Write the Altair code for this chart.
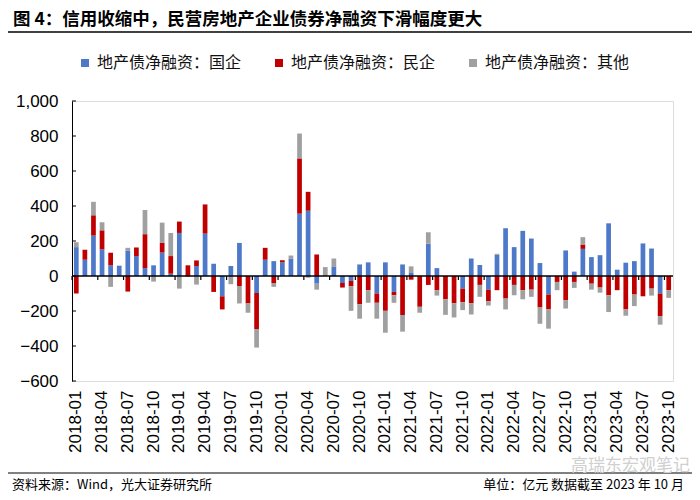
import altair as alt
import pandas as pd

# ---------------- data ----------------
months = [f"{y}-{m:02d}" for y in range(2018, 2024) for m in range(1, 13)][:70]

guoqi = [165, 93, 231, 152, 61, 59, 146, 114, 45, 61, 134, 13,
         246, 0, 57, 242, 70, -116, 57, 189, 0, -97, 93, 85,
         78, 100, 356, 373, -44, 0, 55, -40, -28, 66, 78, -100,
         78, -91, 66, 17, 0, 184, 45, 0, 0, -72, 100, 63,
         -78, 121, 273, 165, 258, 214, 74, -106, 0, 146, 25, 155,
         108, 119, 301, 36, 76, 85, 186, 157, -100, 0]
minqi = [-100, 57, 116, 109, 72, 0, -89, 49, 194, 0, 55, 101,
         65, 61, 32, 167, -91, -75, 0, -57, -157, -206, 68, -40,
         12, 0, 316, 108, 123, 0, 0, -26, -31, -161, -81, -53,
         -199, -19, -223, -21, -176, -51, -81, -133, -155, -78, -155, -51,
         -66, -81, -129, -51, -81, -78, -180, -83, -34, -138, -34, 25,
         -44, -66, -110, -81, -191, -106, -116, -72, -129, -81]
qita = [28, 0, 77, 46, -62, 0, 15, 0, 138, -32, 116, 132,
        -72, -5, -49, 0, 0, 0, -47, -100, -53, -106, 0, -22,
        0, 17, 142, -10, -34, 51, 45, 0, -140, -83, -72, -91,
        -125, -43, -95, 38, -34, 66, -31, -89, -82, -45, -65, -68,
        -25, 6, -62, -59, -52, -41, -93, -112, -47, -48, -34, 42,
        -34, -29, -96, 0, -36, -66, 0, -40, -49, -44]

series_names = ["地产债净融资：国企", "地产债净融资：民企", "地产债净融资：其他"]
colors = ["#4E79C9", "#C00000", "#A0A0A0"]
y_ticks = [-600, -400, -200, 0, 200, 400, 600, 800, 1000]
x_label_months = months[::3]

title_text = "图 4：信用收缩中，民营房地产企业债券净融资下滑幅度更大"
source_text = "资料来源：Wind，光大证券研究所"
unit_text = "单位：亿元  数据截至 2023 年 10 月"
watermark_text = "高瑞东宏观笔记"

rows = []
for i, m in enumerate(months):
    for k, (name, vals) in enumerate(zip(series_names, [guoqi, minqi, qita])):
        rows.append({"month": m, "series": name, "value": vals[i], "order": k})
df = pd.DataFrame(rows)

# ---------------- chart ----------------
W, H = 601, 280
FONT_CN = "Noto Sans CJK SC"
FONT_NUM = "Liberation Sans"

x_scale = alt.Scale(domain=months, paddingInner=0.45, paddingOuter=0.225)
y_scale = alt.Scale(domain=[-600, 1000], nice=False, zero=False)

x_axis = alt.Axis(values=x_label_months, labelAngle=-90, domain=False, ticks=False,
                  labelFont=FONT_NUM, labelFontSize=17, labelColor="black",
                  labelPadding=9, title=None, grid=False)
y_axis = alt.Axis(values=y_ticks, format=",d", domain=True, domainColor="black",
                  domainWidth=1, ticks=False, labelPadding=14, labelFontSize=17,
                  labelOverlap=False, labelFont=FONT_NUM, labelColor="black",
                  grid=False, title=None)

bars = alt.Chart(df).mark_bar().encode(
    x=alt.X("month:O", scale=x_scale, sort=months, axis=x_axis),
    y=alt.Y("value:Q", stack="zero", scale=y_scale, axis=y_axis),
    color=alt.Color("series:N", scale=alt.Scale(domain=series_names, range=colors),
                    legend=alt.Legend(orient="none", legendX=5, legendY=-46, direction="horizontal",
                                      title=None, symbolType="square", symbolSize=64,
                                      symbolStrokeWidth=0, labelFont=FONT_CN, labelFontSize=16,
                                      labelColor="#111111", columnPadding=29, labelOffset=4)),
    order=alt.Order("order:Q"),
)

zero_rule = alt.Chart(pd.DataFrame({"value": [0]})).mark_rule(color="black", strokeWidth=1.5).encode(
    y=alt.Y("value:Q", scale=y_scale, axis=y_axis)
)

x_ticks = alt.Chart(pd.DataFrame({"month": x_label_months, "value": [0] * len(x_label_months),
                                  "y1": [-23] * len(x_label_months)})).mark_rule(
    color="black", strokeWidth=1.2, xOffset=-1.9
).encode(
    x=alt.X("month:O", sort=months, scale=x_scale, bandPosition=0, axis=x_axis),
    y=alt.Y("value:Q", scale=y_scale, axis=y_axis),
    y2="y1:Q",
)

y_tick_marks = alt.Chart(pd.DataFrame({"value": y_ticks})).mark_rule(color="black").encode(
    y=alt.Y("value:Q", scale=y_scale, axis=y_axis), x=alt.value(0), x2=alt.value(4)
)

def text_layer(txt, x, y, size, align="left", bold=False, color="black", font=FONT_CN):
    return alt.Chart(pd.DataFrame({"t": [txt]})).mark_text(
        align=align, baseline="middle", fontSize=size, font=font,
        fontWeight="bold" if bold else "normal", color=color
    ).encode(text="t:N", x=alt.value(x), y=alt.value(y))

title = text_layer(title_text, -59, -81, 17.5, bold=True)
source = text_layer(source_text, -60, 384, 13)
unit = text_layer(unit_text, 612, 384, 13, align="right")
watermark = text_layer(watermark_text, 618, 365, 17, align="right", color="#d0d0d0")

top_line = alt.Chart(pd.DataFrame({"a": [0]})).mark_rule(color="black", strokeWidth=1.5).encode(
    x=alt.value(-64), x2=alt.value(620), y=alt.value(-69)
)
bottom_line = alt.Chart(pd.DataFrame({"a": [0]})).mark_rule(color="black", strokeWidth=1).encode(
    x=alt.value(-64), x2=alt.value(620), y=alt.value(372)
)

chart = alt.layer(
    bars, zero_rule, x_ticks, y_tick_marks, top_line, bottom_line,
    title, source, unit, watermark
).properties(
    width=W, height=H,
    autosize=alt.AutoSizeParams(type="none"),
    padding={"left": 64, "top": 93, "right": 19, "bottom": 111},
).configure_view(stroke=None).configure(background="white")

chart.save("out.html", embed_options={"renderer": "svg", "actions": False})
